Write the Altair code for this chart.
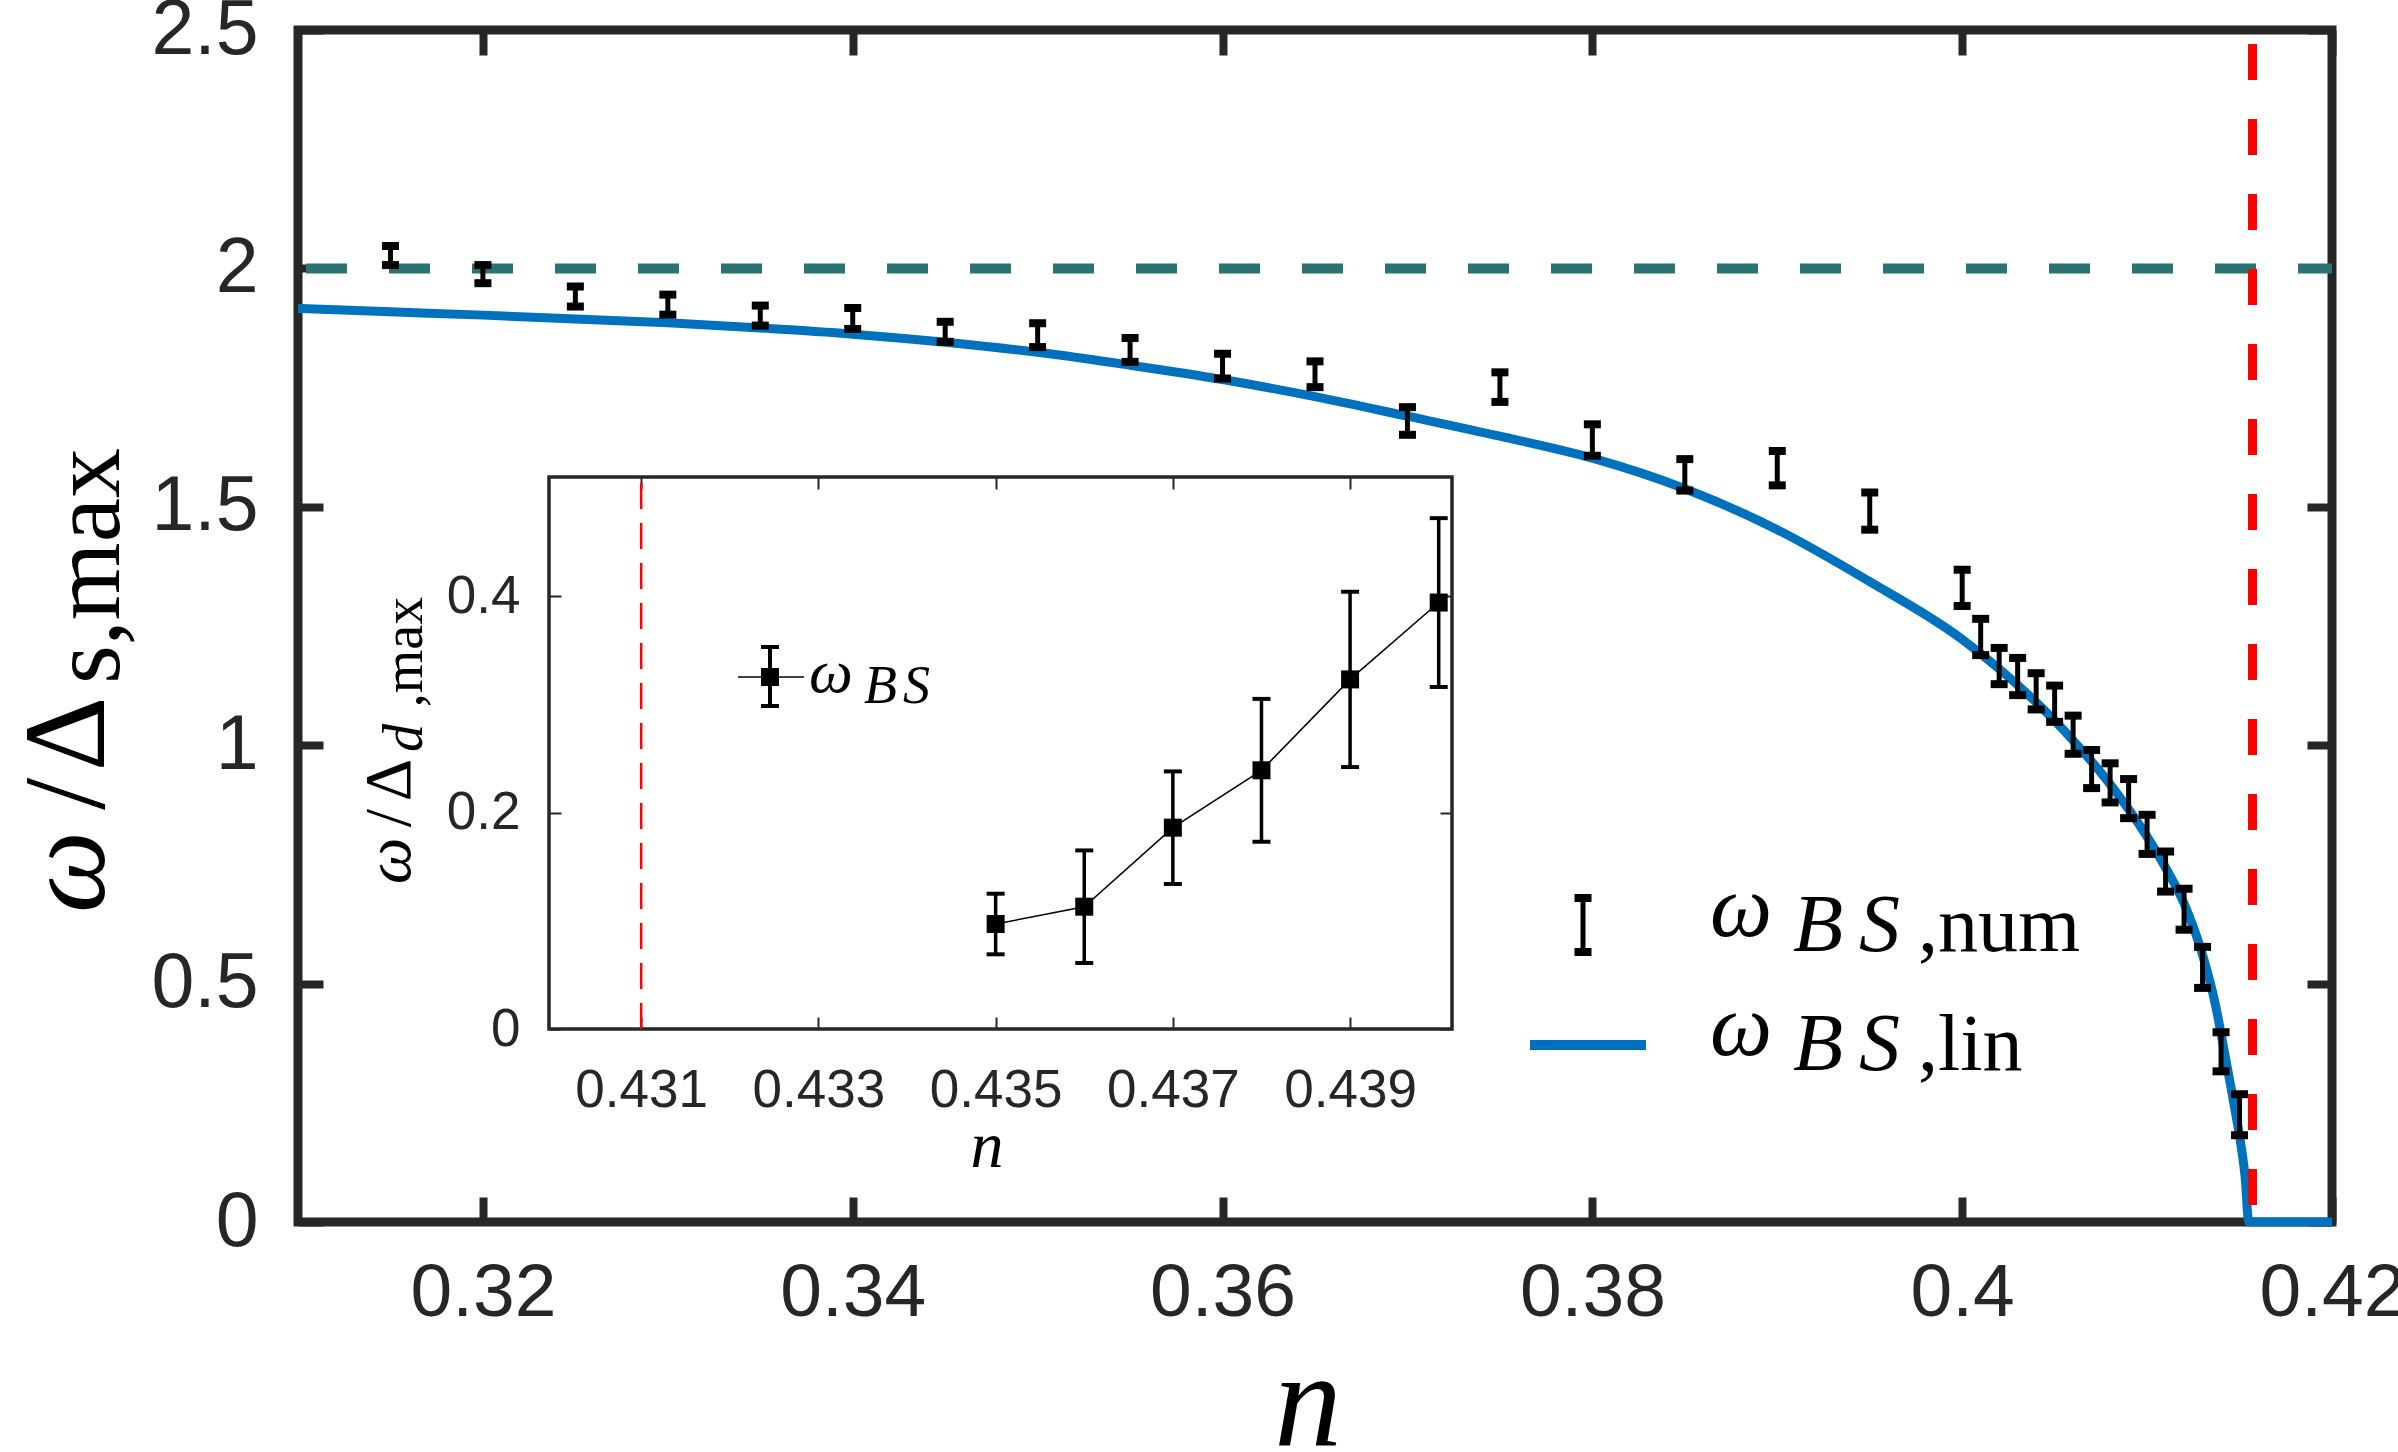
import altair as alt
import pandas as pd

# ---------------- data ----------------
# numerical bound-state energies with error bars (main panel)
n_num = [0.315, 0.320, 0.325, 0.330, 0.335, 0.340, 0.345, 0.350, 0.355, 0.360, 0.365,
         0.370, 0.375, 0.380, 0.385, 0.390, 0.395,
         0.400, 0.401, 0.402, 0.403, 0.404, 0.405, 0.406, 0.407, 0.408, 0.409,
         0.410, 0.411, 0.412, 0.413, 0.414, 0.415]
w_num = [2.027, 1.988, 1.941, 1.924, 1.901, 1.895, 1.867, 1.860, 1.829, 1.795, 1.778,
         1.680, 1.751, 1.640, 1.567, 1.581, 1.491,
         1.330, 1.227, 1.166, 1.144, 1.113, 1.087, 1.022, 0.950, 0.921, 0.888,
         0.813, 0.735, 0.656, 0.534, 0.357, 0.225]
e_num = [0.020, 0.019, 0.021, 0.021, 0.021, 0.022, 0.021, 0.025, 0.025, 0.026, 0.027,
         0.029, 0.031, 0.033, 0.033, 0.036, 0.039,
         0.038, 0.038, 0.038, 0.039, 0.038, 0.038, 0.040, 0.040, 0.041, 0.041,
         0.041, 0.042, 0.043, 0.043, 0.041, 0.043]

# linearised curve (main panel)
n_lin = [0.310, 0.315, 0.320, 0.325, 0.330, 0.335, 0.340, 0.345, 0.350, 0.355, 0.360,
         0.365, 0.370, 0.375, 0.380, 0.385, 0.390, 0.395, 0.400, 0.402, 0.404, 0.406,
         0.408, 0.410, 0.411, 0.412, 0.413, 0.4137, 0.4140, 0.4145, 0.4148, 0.4151,
         0.4153, 0.4155, 0.420]
w_lin = [1.916, 1.909, 1.902, 1.894, 1.886, 1.875, 1.862, 1.845, 1.824, 1.797, 1.767,
         1.731, 1.690, 1.648, 1.602, 1.538, 1.452, 1.343, 1.222, 1.160, 1.090, 1.010,
         0.918, 0.808, 0.743, 0.668, 0.560, 0.455, 0.395, 0.290, 0.225, 0.155,
         0.095, 0.0, 0.0]

plateau = [2.0]
n_crit = [0.4157]

# inset data
n_bs = [0.435, 0.436, 0.437, 0.438, 0.439, 0.440]
w_bs = [0.097, 0.113, 0.186, 0.239, 0.323, 0.394]
e_bs = [0.028, 0.052, 0.052, 0.066, 0.081, 0.078]
n_crit_inset = [0.431]

# axes
x_dom = [0.31, 0.42]
y_dom = [0.0, 2.5]
x_ticks = [0.32, 0.34, 0.36, 0.38, 0.40, 0.42]
y_ticks = [0.0, 0.5, 1.0, 1.5, 2.0, 2.5]
xi_dom = [0.42996, 0.44015]
yi_dom = [0.0, 0.51]
xi_ticks = [0.431, 0.433, 0.435, 0.437, 0.439]
yi_ticks = [0.0, 0.2, 0.4]

# ---------------- layout / style ----------------
W, H = 2034, 1192
IX0, IX1, IY0, IY1 = 251, 1154, 447, 999   # inset box inside the plot area
FRAME = "#262626"
BLUE = "#0072BD"
TEAL = "#297370"
RED = "#FF0000"
SERIF = "Liberation Serif"
SANS = "Liberation Sans"
CAP = "M-1,-0.47H1V0.47H-1Z"
CAP_S = "M-1,-0.22H1V0.22H-1Z"

df_num = pd.DataFrame({"n": n_num, "w": w_num, "e": e_num})
df_num["lo"] = df_num["w"] - df_num["e"]
df_num["hi"] = df_num["w"] + df_num["e"]
df_lin = pd.DataFrame({"n": n_lin, "w": w_lin})
df_bs = pd.DataFrame({"n": n_bs, "w": w_bs, "e": e_bs})
df_bs["lo"] = df_bs["w"] - df_bs["e"]
df_bs["hi"] = df_bs["w"] + df_bs["e"]
one = pd.DataFrame({"k": [0]})

xs = alt.Scale(domain=x_dom, nice=False, zero=False)
ys = alt.Scale(domain=y_dom, nice=False, zero=False)
xi = alt.Scale(domain=xi_dom, range=[IX0, IX1], nice=False, zero=False)
yi = alt.Scale(domain=yi_dom, range=[IY1, IY0], nice=False, zero=False)


def tick_axis(orient, offset, values, size, width):
    return alt.Axis(orient=orient, offset=offset, values=values, labels=False,
                    domain=False, grid=False, ticks=True, tickSize=size,
                    tickWidth=width, tickColor=FRAME, title=None)


def label_axis(orient, offset, values, fmt, fsize, pad):
    return alt.Axis(orient=orient, offset=offset, values=values, format=fmt,
                    labels=True, ticks=False, domain=False, grid=False,
                    labelFontSize=fsize, labelPadding=pad, labelFlush=False,
                    labelOverlap=False, labelFont=SANS, labelColor=FRAME, title=None)


def txt(s, x, y, size, italic=False, angle=0, align="left"):
    return alt.Chart(one).mark_text(
        text=s, font=SERIF, fontSize=size,
        fontStyle="italic" if italic else "normal",
        angle=angle, align=align, baseline="alphabetic", color="black"
    ).encode(x=alt.value(x), y=alt.value(y))


# ---------------- main panel ----------------
teal = alt.Chart(pd.DataFrame({"w": plateau})).mark_rule(
    color=TEAL, strokeWidth=10, strokeDash=[41, 42], strokeDashOffset=7
).encode(y=alt.Y("w:Q", scale=ys, axis=None))

curve = alt.Chart(df_lin).mark_line(
    color=BLUE, strokeWidth=9, interpolate="monotone"
).encode(x=alt.X("n:Q", scale=xs, axis=None), y=alt.Y("w:Q", scale=ys, axis=None))

stems = alt.Chart(df_num).mark_rule(color="black", strokeWidth=5).encode(
    x=alt.X("n:Q", scale=xs, axis=label_axis("bottom", 0, x_ticks, ".2~f", 75, 34)),
    y=alt.Y("lo:Q", scale=ys, axis=label_axis("left", 0, y_ticks, ".1~f", 77, 40)),
    y2="hi:Q",
)
caps_lo = alt.Chart(df_num).mark_point(
    shape=CAP, filled=True, size=289, color="black", opacity=1
).encode(
    x=alt.X("n:Q", scale=xs, axis=tick_axis("top", -H, x_ticks, 25, 8)),
    y=alt.Y("lo:Q", scale=ys, axis=tick_axis("right", -W, y_ticks, 25, 8)),
)
caps_hi = alt.Chart(df_num).mark_point(
    shape=CAP, filled=True, size=289, color="black", opacity=1
).encode(
    x=alt.X("n:Q", scale=xs, axis=tick_axis("bottom", -H, x_ticks, 25, 8)),
    y=alt.Y("hi:Q", scale=ys, axis=tick_axis("left", -W, y_ticks, 25, 8)),
)

red = alt.Chart(pd.DataFrame({"n": n_crit})).mark_rule(
    color=RED, strokeWidth=9, strokeDash=[36, 39], strokeDashOffset=61
).encode(x=alt.X("n:Q", scale=xs, axis=None))

# legend of the main panel
leg_stem = alt.Chart(one).mark_rule(color="black", strokeWidth=5).encode(
    x=alt.value(1285), y=alt.value(868), y2=alt.value(922))
leg_cap1 = alt.Chart(one).mark_point(shape=CAP, filled=True, size=289, color="black",
                                     opacity=1).encode(x=alt.value(1285), y=alt.value(868))
leg_cap2 = alt.Chart(one).mark_point(shape=CAP, filled=True, size=289, color="black",
                                     opacity=1).encode(x=alt.value(1285), y=alt.value(922))
leg_line = alt.Chart(one).mark_rule(color=BLUE, strokeWidth=10).encode(
    x=alt.value(1232), x2=alt.value(1348), y=alt.value(1015))

texts_main = [
    txt("ω", 1412, 906, 88, italic=True),
    txt("B", 1495, 921, 82, italic=True),
    txt("S", 1561, 921, 82, italic=True),
    txt(",num", 1620, 921, 80),
    txt("ω", 1412, 1025, 88, italic=True),
    txt("B", 1495, 1040, 82, italic=True),
    txt("S", 1561, 1040, 82, italic=True),
    txt(",lin", 1620, 1040, 80),
    # axis titles
    txt("n", 1010, 1415, 135, italic=True, align="center"),
    txt("ω", -194, 842, 116, italic=True, angle=270, align="center"),
    txt("/", -194, 764, 116, angle=270, align="center"),
    txt("Δ", -194, 704, 116, angle=270, align="center"),
    txt("s,max", -179, 536, 100, angle=270, align="center"),
]

main = alt.layer(
    teal, curve, stems, caps_lo, caps_hi, red,
    leg_line, leg_stem, leg_cap1, leg_cap2, *texts_main
).resolve_axis(x="independent", y="independent")

# ---------------- inset ----------------
frame_df = pd.DataFrame({"x0": [xi_dom[0]], "x1": [xi_dom[1]],
                         "y0": [yi_dom[0]], "y1": [yi_dom[1]]})
inset_frame = alt.Chart(frame_df).mark_rect(
    filled=False, color=FRAME, strokeWidth=3.5
).encode(x=alt.X("x0:Q", scale=xi, axis=None), x2="x1:Q",
         y=alt.Y("y0:Q", scale=yi, axis=None), y2="y1:Q")

crit_df = pd.DataFrame({"n": n_crit_inset, "y0": [yi_dom[0]], "y1": [yi_dom[1]]})
inset_red = alt.Chart(crit_df).mark_rule(
    color=RED, strokeWidth=2.5, strokeDash=[26, 14]
).encode(x=alt.X("n:Q", scale=xi, axis=None),
         y=alt.Y("y0:Q", scale=yi, axis=None), y2="y1:Q")

inset_line = alt.Chart(df_bs).mark_line(color="black", strokeWidth=1.5).encode(
    x=alt.X("n:Q", scale=xi, axis=label_axis("bottom", -(H - IY1), xi_ticks, ".3f", 53, 35)),
    y=alt.Y("w:Q", scale=yi, axis=label_axis("left", -IX0, yi_ticks, ".1~f", 53, 29)),
)
inset_stems = alt.Chart(df_bs).mark_rule(color="black", strokeWidth=3.5).encode(
    x=alt.X("n:Q", scale=xi, axis=tick_axis("top", -IY1, xi_ticks, 12, 2)),
    y=alt.Y("lo:Q", scale=yi, axis=tick_axis("right", -(W - IX0), yi_ticks, 12, 2)),
    y2="hi:Q",
)
inset_caps_lo = alt.Chart(df_bs).mark_point(
    shape=CAP_S, filled=True, size=324, color="black", opacity=1
).encode(
    x=alt.X("n:Q", scale=xi, axis=tick_axis("bottom", -(H - IY0), xi_ticks, 12, 2)),
    y=alt.Y("lo:Q", scale=yi, axis=tick_axis("left", -IX1, yi_ticks, 12, 2)),
)
inset_caps_hi = alt.Chart(df_bs).mark_point(
    shape=CAP_S, filled=True, size=324, color="black", opacity=1
).encode(x=alt.X("n:Q", scale=xi, axis=None), y=alt.Y("hi:Q", scale=yi, axis=None))
inset_sq = alt.Chart(df_bs).mark_square(size=324, color="black", opacity=1).encode(
    x=alt.X("n:Q", scale=xi, axis=None), y=alt.Y("w:Q", scale=yi, axis=None))

# inset legend
il_line = alt.Chart(one).mark_rule(color="black", strokeWidth=1.5).encode(
    x=alt.value(440), x2=alt.value(506), y=alt.value(647))
il_stem = alt.Chart(one).mark_rule(color="black", strokeWidth=4).encode(
    x=alt.value(472), y=alt.value(617), y2=alt.value(676))
il_cap1 = alt.Chart(one).mark_point(shape=CAP_S, filled=True, size=324, color="black",
                                    opacity=1).encode(x=alt.value(472), y=alt.value(617))
il_cap2 = alt.Chart(one).mark_point(shape=CAP_S, filled=True, size=324, color="black",
                                    opacity=1).encode(x=alt.value(472), y=alt.value(676))
il_sq = alt.Chart(one).mark_square(size=324, color="black", opacity=1).encode(
    x=alt.value(472), y=alt.value(647))

texts_inset = [
    txt("ω", 511, 662, 62, italic=True),
    txt("B", 566, 673, 54, italic=True),
    txt("S", 605, 673, 54, italic=True),
    txt("n", 689, 1137, 66, italic=True, align="center"),
    txt("ω", 112, 831, 66, italic=True, angle=270, align="center"),
    txt("/", 112, 788, 66, angle=270, align="center"),
    txt("Δ", 112, 750, 66, angle=270, align="center"),
    txt("d", 124, 708, 56, italic=True, angle=270, align="center"),
    txt(",max", 124, 622, 56, angle=270, align="center"),
]

inset = alt.layer(
    inset_frame, inset_red, inset_line, inset_stems, inset_caps_lo, inset_caps_hi,
    inset_sq, il_line, il_stem, il_cap1, il_cap2, il_sq, *texts_inset
).resolve_axis(x="independent", y="independent")

chart = alt.layer(main, inset).resolve_scale(
    x="independent", y="independent"
).properties(
    width=W, height=H,
    autosize=alt.AutoSizeParams(type="none"),
    padding={"left": 298, "top": 30, "right": 66, "bottom": 230},
    background="white",
).configure_view(stroke=FRAME, strokeWidth=9)

chart.save("out.html", embed_options={"renderer": "svg", "actions": False})
